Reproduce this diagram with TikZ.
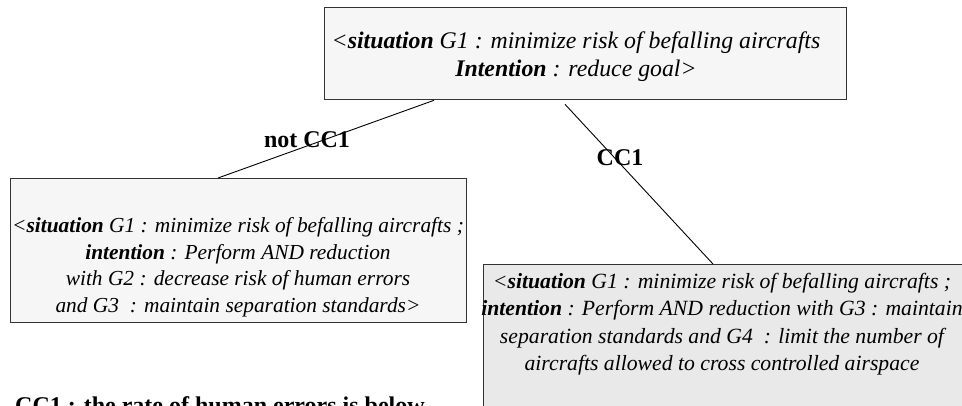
\documentclass[tikz,border=0pt]{standalone}
\usepackage{fontspec}
\setmainfont{Liberation Serif}
\usetikzlibrary{calc}
\definecolor{paleshade}{HTML}{F5F6F5}
\definecolor{greyshade}{HTML}{E9E9E9}
\definecolor{frame}{HTML}{333333}
\tikzset{
  goalbox/.style={draw=frame, line width=1.3pt, inner sep=0pt, anchor=north west},
  goaltext/.style={align=center, inner sep=0pt, font=\fontsize{21.4}{26.5}\selectfont\itshape},
  edgelabel/.style={inner sep=0pt, font=\fontsize{24}{28}\selectfont\bfseries},
  link/.style={line width=0.9pt, black}
}
\begin{document}
\begin{tikzpicture}[x=1pt,y=-1pt]
\useasboundingbox (0,0) rectangle (962,405);
\clip (0,0) rectangle (962,405);

% goal boxes
\node[goalbox, fill=paleshade, minimum width=522pt, minimum height=92pt] (top) at (324,7) {};
\node[goalbox, fill=paleshade, minimum width=456pt, minimum height=144pt] (left) at (10,178) {};
\node[goalbox, fill=greyshade, minimum width=500pt, minimum height=160pt] (right) at (483,264) {};

% box contents
\node[goaltext, font=\fontsize{23.8}{28}\selectfont\itshape] (toptext) at (576,57)
  {<\textbf{situation} G1 : minimize risk of befalling aircrafts\\
   \textbf{Intention} : reduce goal>};
\node[goaltext] (lefttext) at (238,267)
  {<\textbf{situation} G1 : minimize risk of befalling aircrafts ;\\
   \textbf{intention} : Perform AND reduction\\
   with G2 : decrease risk of human errors\\
   and G3\ \ : maintain separation standards>};
\node[goaltext, font=\fontsize{21.7}{27.4}\selectfont\itshape] (righttext) at (722,324)
  {<\textbf{situation} G1 : minimize risk of befalling aircrafts ;\\
   \textbf{intention} : Perform AND reduction with G3 : maintain\\
   separation standards and G4\ \ : limit the number of\\
   aircrafts allowed to cross controlled airspace};

% refinement links
\draw[link] ([xshift=110pt]top.south west) -- ([xshift=208pt]left.north west);
\draw[link] ([xshift=241pt,yshift=-4pt]top.south west) -- ([xshift=230pt]right.north west);

% link conditions
\node[edgelabel] (notcc) at (307,140) {not CC1};
\node[edgelabel] (cc) at (620,158) {CC1};

% condition legend
\node[edgelabel, anchor=base west] (legend) at (15,413) {CC1 : the rate of human errors is below};
\end{tikzpicture}
\end{document}
